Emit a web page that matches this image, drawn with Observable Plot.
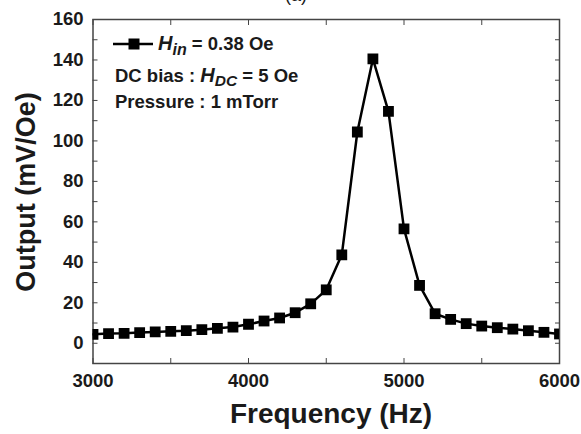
<!DOCTYPE html>
<html>
<head>
<meta charset="utf-8">
<script src="https://cdn.jsdelivr.net/npm/d3@7"></script>
<script src="https://cdn.jsdelivr.net/npm/@observablehq/plot@0.6"></script>
<style>
  html, body { margin: 0; padding: 0; background: white; }
</style>
</head>
<body>
<div id="chart"></div>
<script>
// Frequency (Hz)
const freq = [3000, 3100, 3200, 3300, 3400, 3500, 3600, 3700, 3800, 3900,
              4000, 4100, 4200, 4300, 4400, 4500, 4600, 4700, 4800, 4900,
              5000, 5100, 5200, 5300, 5400, 5500, 5600, 5700, 5800, 5900, 6000];
// Output (mV/Oe)
const output = [4.4, 4.8, 4.9, 5.3, 5.6, 5.9, 6.2, 6.7, 7.4, 8.0,
                9.4, 11.0, 12.5, 15.1, 19.5, 26.4, 43.7, 104.4, 140.5, 114.6,
                56.5, 28.6, 14.6, 11.8, 9.7, 8.5, 7.7, 7.0, 6.2, 5.4, 4.6];

const xTickLabels = [3000, 4000, 5000, 6000];
const xTickMarks = [3000, 3500, 4000, 4500, 5000, 5500, 6000];
const yTickLabels = [0, 20, 40, 60, 80, 100, 120, 140, 160];
const yTickMarks = [-10, 0, 10, 20, 30, 40, 50, 60, 70, 80, 90, 100, 110, 120, 130, 140, 150, 160];

const xTitle = "Frequency (Hz)";
const yTitle = "Output (mV/Oe)";
const panelLabel = "(a)";

const data = freq.map((f, i) => ({f, v: output[i]}));

const font = "'Liberation Sans', Arial, Helvetica, sans-serif";
const frameColor = "#444";

const chart = Plot.plot({
  width: 581,
  height: 434,
  marginLeft: 92.5,
  marginRight: 22,
  marginTop: 19,
  marginBottom: 71,
  style: {fontFamily: font, background: "white", color: "#111"},
  x: {domain: [3000, 6000]},
  y: {domain: [-10, 160]},
  marks: [
    Plot.frame({stroke: frameColor, strokeWidth: 1.5}),
    Plot.axisX(xTickMarks, {anchor: "bottom", tickSize: -5, text: null, stroke: frameColor, label: null}),
    Plot.axisX(xTickMarks, {anchor: "top", tickSize: -5, text: null, stroke: frameColor, label: null}),
    Plot.axisY(yTickMarks, {anchor: "left", tickSize: -5, text: null, stroke: frameColor, label: null}),
    Plot.axisY(yTickMarks, {anchor: "right", tickSize: -5, text: null, stroke: frameColor, label: null}),
    Plot.axisX(xTickLabels, {anchor: "bottom", tickSize: 0, tickPadding: 10.5, tickFormat: d => String(d), fontSize: 18.5, fontWeight: "bold", fill: "#1a1a1a", label: null}),
    Plot.axisY(yTickLabels, {anchor: "left", tickSize: 0, tickPadding: 9.5, tickFormat: d => String(d), fontSize: 18.5, fontWeight: "bold", fill: "#1a1a1a", label: null}),
    Plot.line(data, {x: "f", y: "v", stroke: "black", strokeWidth: 2.5, clip: true}),
    Plot.dot(data, {x: "f", y: "v", symbol: "square", r: 6.1, fill: "black", stroke: "none", clip: true})
  ]
});

document.getElementById("chart").appendChild(chart);

const svg = d3.select(chart);
const g = svg.append("g").attr("font-family", font).attr("font-weight", "bold")
  .attr("fill", "#1a1a1a").attr("text-anchor", "start");

// Axis titles
g.append("text").attr("x", 331).attr("y", 423).attr("text-anchor", "middle")
  .attr("font-size", 28).text(xTitle);
g.append("text").attr("transform", "translate(35,192) rotate(-90)").attr("text-anchor", "middle")
  .attr("font-size", 27).text(yTitle);

// Clipped panel label at top
g.append("text").attr("x", 296).attr("y", 1).attr("text-anchor", "middle")
  .attr("font-size", 18).attr("font-weight", "normal").text(panelLabel);

// Legend
g.append("line").attr("x1", 113).attr("x2", 153).attr("y1", 44).attr("y2", 44)
  .attr("stroke", "black").attr("stroke-width", 2.5);
g.append("rect").attr("x", 134 - 5.5).attr("y", 44 - 5.5).attr("width", 11).attr("height", 11).attr("fill", "black");

const t1 = g.append("text").attr("x", 158).attr("y", 50).attr("font-size", 18.5).attr("text-anchor", "start");
t1.append("tspan").attr("font-style", "italic").attr("font-size", 20).text("H");
t1.append("tspan").attr("font-style", "italic").attr("font-size", 16).attr("dy", 5).text("in");
t1.append("tspan").attr("dy", -5).text(" = 0.38 Oe");

const t2 = g.append("text").attr("x", 115).attr("y", 82).attr("font-size", 18.5).attr("text-anchor", "start");
t2.append("tspan").text("DC bias : ");
t2.append("tspan").attr("font-style", "italic").attr("font-size", 20).text("H");
t2.append("tspan").attr("font-style", "italic").attr("font-size", 15.5).attr("dy", 4).text("DC");
t2.append("tspan").attr("dy", -4).text(" = 5 Oe");

g.append("text").attr("x", 115).attr("y", 108).attr("font-size", 18.5).attr("text-anchor", "start").text("Pressure : 1 mTorr");
</script>
</body>
</html>
